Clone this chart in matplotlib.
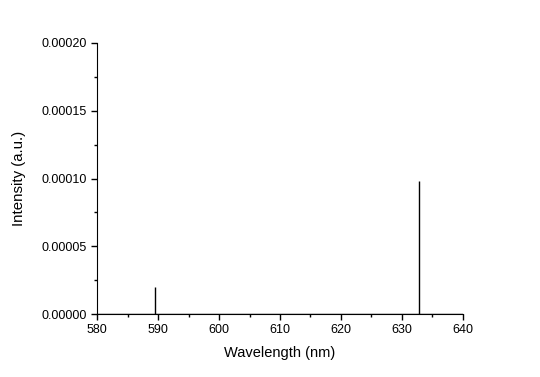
import matplotlib.pyplot as plt
from matplotlib.ticker import MultipleLocator, FormatStrFormatter

# Spectral lines
peak_wavelength = [589.5, 632.8]
peak_intensity = [0.00002, 0.000098]

plt.rcParams['font.family'] = ['Liberation Sans', 'DejaVu Sans']

fig = plt.figure(figsize=(5.4, 3.77), dpi=100)
ax = fig.add_axes([0.18, 0.167, 0.677, 0.719])

# baseline plus the vertical lines
ax.plot([580, 640], [0, 0], color='black', linewidth=1)
ax.vlines(peak_wavelength, 0, peak_intensity, color='black', linewidth=1)

ax.set_xlim(580, 640)
ax.set_ylim(0, 0.0002)
ax.xaxis.set_major_locator(MultipleLocator(10))
ax.xaxis.set_minor_locator(MultipleLocator(5))
ax.yaxis.set_major_locator(MultipleLocator(0.00005))
ax.yaxis.set_minor_locator(MultipleLocator(0.000025))
ax.yaxis.set_major_formatter(FormatStrFormatter('%.5f'))

ax.tick_params(which='major', direction='out', length=4, width=1, labelsize=9)
ax.tick_params(which='minor', direction='out', length=2.5, width=1)

ax.set_xlabel('Wavelength (nm)', fontsize=10.5, labelpad=7)
ax.set_ylabel('Intensity (a.u.)', fontsize=10.8, labelpad=11)

ax.spines['right'].set_visible(False)
ax.spines['top'].set_visible(False)

plt.savefig('out.png', dpi=100)
